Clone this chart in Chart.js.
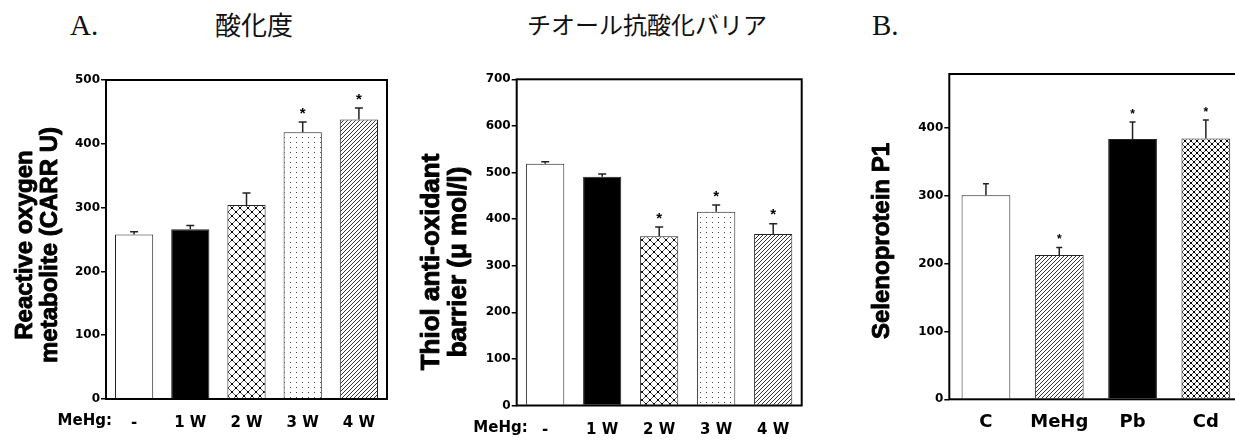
<!DOCTYPE html>
<html>
<head>
<meta charset="utf-8">
<script src="https://cdn.jsdelivr.net/npm/chart.js@4.4.0/dist/chart.umd.min.js"></script>
<style>
html, body { margin:0; padding:0; background:#fff; }
body { position:relative; width:1235px; height:442px; overflow:hidden; }
canvas { position:absolute; top:0; }
.hd { position:absolute; white-space:nowrap; color:#111; }
.lat { font-family:"Liberation Serif","Times New Roman",serif; font-size:29px; line-height:29px; top:11px; }
.jp { font-family:"Noto Sans CJK JP",sans-serif; font-weight:400; line-height:26px; top:11px; }
</style>
</head>
<body>
<div class="hd lat" style="left:70px">A.</div>
<div class="hd jp" style="left:215px;font-size:26px">酸化度</div>
<div class="hd jp" style="left:527px;font-size:24px">チオール抗酸化バリア</div>
<div class="hd lat" style="left:872px">B.</div>
<canvas id="rom" width="400" height="442" style="left:0"></canvas>
<canvas id="tab" width="420" height="442" style="left:410px"></canvas>
<canvas id="sepp" width="410" height="442" style="left:840px"></canvas>
<script>
// Data
const weekLabels = ['-', '1 W', '2 W', '3 W', '4 W'];
const romValues = [258, 266, 304, 418, 438];
const romErrors = [4, 6, 19, 16, 18];
const romSig = [false, false, false, true, true];

const tabValues = [519, 491, 363, 416, 368];
const tabErrors = [4, 6, 20, 14, 22];
const tabSig = [false, false, true, true, true];

const seppLabels = ['C', 'MeHg', 'Pb', 'Cd'];
const seppValues = [301, 213, 384, 385];
const seppErrors = [17, 11, 25, 27];
const seppSig = [false, true, true, true];

const romMax = 500, tabMax = 700, seppMax = 480, tickStep = 100;

// Fill patterns
function pattern(kind, s){
  const c = document.createElement('canvas');
  c.width = s; c.height = kind === 'dots' ? s - 1 : s;
  const g = c.getContext('2d');
  g.fillStyle = '#fff'; g.fillRect(0, 0, c.width, c.height);
  if (kind === 'cross'){
    g.strokeStyle = '#555'; g.lineWidth = 1;
    g.beginPath(); g.moveTo(0, 0); g.lineTo(s, s); g.moveTo(s, 0); g.lineTo(0, s); g.stroke();
    g.fillStyle = '#000';
    g.fillRect(s/2 - 1, s/2 - 1, 2, 2);
    [[0,0],[s,0],[0,s],[s,s]].forEach(([x,y]) => g.fillRect(x - 1, y - 1, 2, 2));
  } else if (kind === 'hatch'){
    g.strokeStyle = '#333'; g.lineWidth = 1;
    g.beginPath();
    g.moveTo(0, s); g.lineTo(s, 0);
    g.moveTo(-1, 1); g.lineTo(1, -1);
    g.moveTo(s - 1, s + 1); g.lineTo(s + 1, s - 1);
    g.stroke();
  } else if (kind === 'dots'){
    g.fillStyle = '#444'; g.fillRect(2, 2, 1, 1);
  }
  return g.createPattern(c, 'repeat');
}
const white = '#fff', black = '#000';
const fillsA = [white, black, pattern('cross', 8), pattern('dots', 6), pattern('hatch', 4)];
const fillsB = [white, pattern('hatch', 4), black, pattern('cross', 6)];

// error bars, stars, frame, axis titles
function decor(vals, errs, sig, o){
  return {
    id: 'decor',
    afterDatasetsDraw(chart){
      const { ctx, chartArea: a, scales: { y } } = chart;
      const meta = chart.getDatasetMeta(0);
      ctx.save();
      meta.data.forEach((bar, i) => {
        const yt = y.getPixelForValue(vals[i] + errs[i]);
        ctx.strokeStyle = '#222'; ctx.lineWidth = 1.5;
        ctx.beginPath();
        ctx.moveTo(bar.x, bar.y); ctx.lineTo(bar.x, yt);
        ctx.moveTo(bar.x - o.cap/2, yt); ctx.lineTo(bar.x + o.cap/2, yt);
        ctx.stroke();
        if (sig[i]){
          ctx.font = `bold ${o.star}px "Liberation Sans", Arial`;
          ctx.textAlign = 'center'; ctx.textBaseline = 'alphabetic'; ctx.fillStyle = '#000';
          ctx.fillText('*', bar.x, yt - o.starGap + 0.58 * o.star);
        }
      });
      ctx.lineWidth = 2; ctx.strokeStyle = '#000';
      ctx.strokeRect(a.left, a.top, a.right - a.left, a.bottom - a.top);

      // rotated y titles, slightly heavier than plain bold
      ctx.fillStyle = '#000'; ctx.strokeStyle = '#000'; ctx.lineWidth = 0.9; ctx.lineJoin = 'round';
      ctx.font = `bold ${o.titleSize}px "Liberation Sans", Arial`;
      ctx.textAlign = 'center'; ctx.textBaseline = 'middle';
      o.title.forEach((t, i) => {
        ctx.save();
        ctx.translate(o.titleX[i], o.titleY);
        ctx.rotate(-Math.PI / 2);
        ctx.fillText(t, 0, 0);
        ctx.strokeText(t, 0, 0);
        ctx.restore();
      });
      if (o.mehg){
        ctx.font = `bold ${o.xFont}px "DejaVu Sans"`;
        ctx.textAlign = 'right';
        ctx.fillText('MeHg:', a.left + o.mehgDx, a.bottom + o.labelDy);
      }
      ctx.restore();
    }
  };
}

function makeChart(id, labels, vals, errs, sig, fills, max, o){
  return new Chart(document.getElementById(id), {
    type: 'bar',
    data: { labels, datasets: [{ data: vals, backgroundColor: fills, borderColor: '#222', borderWidth: 1,
      barPercentage: o.barPct, categoryPercentage: 1 }] },
    options: {
      responsive: false, animation: false, events: [],
      layout: { padding: { top: o.top, right: o.right, left: 0, bottom: 0 } },
      plugins: { legend: { display: false }, tooltip: { enabled: false } },
      scales: {
        x: {
          grid: { display: false }, border: { display: false },
          ticks: { color: '#000', font: { family: 'DejaVu Sans', weight: 'bold', size: o.xFont },
            padding: o.labelDy - o.xFont * 0.6 - 6, maxRotation: 0, autoSkip: false },
          afterFit: s => { s.height = o.xH; }
        },
        y: {
          min: 0, max,
          ticks: { stepSize: tickStep, includeBounds: false, color: '#000', padding: 1,
            font: { family: 'DejaVu Sans', weight: 'bold', size: o.yFont } },
          grid: { drawOnChartArea: false, tickLength: 5, color: '#000', lineWidth: 1.5 },
          border: { display: false },
          afterFit: s => { s.width = o.yW; }
        }
      }
    },
    plugins: [decor(vals, errs, sig, o)]
  });
}

makeChart('rom', weekLabels, romValues, romErrors, romSig, fillsA, romMax, {
  yW: 106, top: 80, right: 13, xH: 43, barPct: 0.68, xFont: 15, yFont: 12,
  labelDy: 22, cap: 8, star: 15, starGap: 13, mehg: true, mehgDx: 6,
  title: ['Reactive oxygen', 'metabolite (CARR U)'], titleX: [25, 50], titleY: 245, titleSize: 24
});

makeChart('tab', weekLabels, tabValues, tabErrors, tabSig, fillsA, tabMax, {
  yW: 106.7, top: 79.3, right: 28.3, xH: 36.5, barPct: 0.67, xFont: 15, yFont: 12,
  labelDy: 22.5, cap: 8, star: 15, starGap: 13, mehg: true, mehgDx: 11,
  title: ['Thiol anti-oxidant', 'barrier (μ mol/l)'], titleX: [22, 49], titleY: 262, titleSize: 26
});

makeChart('sepp', seppLabels, seppValues, seppErrors, seppSig, fillsB, seppMax, {
  yW: 109.3, top: 74, right: 7.5, xH: 42.7, barPct: 0.665, xFont: 18, yFont: 12,
  labelDy: 21, cap: 6, star: 12, starGap: 11, mehg: false,
  title: ['Selenoprotein P1'], titleX: [42], titleY: 241, titleSize: 24
});
</script>
</body>
</html>
